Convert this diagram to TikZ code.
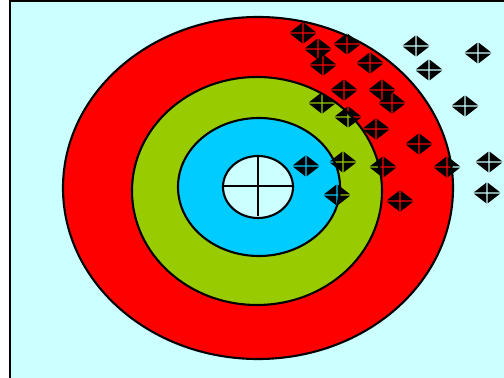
\documentclass[tikz,border=0pt]{standalone}
\usepackage{tikz}
\definecolor{paleCyan}{RGB}{204,255,255}
\definecolor{ringRed}{RGB}{255,0,0}
\definecolor{ringGreen}{RGB}{153,204,0}
\definecolor{ringBlue}{RGB}{0,204,255}

\begin{document}
\begin{tikzpicture}[
    x=0.02cm, y=-0.02cm,
    ring/.style={draw=black, line width=1.2pt},
    crosshair/.style={line width=1.3pt},
    hit/.pic={
        \foreach \sx in {1,-1}
            \foreach \sy in {1,-1}
                \fill[black, xscale=\sx, yscale=\sy] (0.6,0.6) -- (13.2,0.6) -- (0.6,10.4) -- cycle;
    }
]
    \useasboundingbox (0,0) rectangle (504,378);
    % backdrop
    \fill[paleCyan] (10,1) rectangle (504,378);
    \draw[line width=1.1pt] (10,378) -- (10,1) -- (504,1);
    % rings
    \draw[ring, fill=ringRed] (258,188) ellipse [x radius=195, y radius=171];
    \draw[ring, fill=ringGreen] (257,191) ellipse [x radius=125, y radius=114];
    \draw[ring, fill=ringBlue] (259,187) ellipse [x radius=81, y radius=69];
    \draw[ring, fill=paleCyan] (258,187) ellipse [x radius=35, y radius=31];
    \draw[crosshair] (258,155) -- (258,216);
    \draw[crosshair] (223,186) -- (293,186);
    % hits
    \foreach \px/\py in {303/33, 318/49, 323/65, 347/44, 370/63, 416/46, 429/70,
                         478/53, 344/90, 382/90, 322/103, 348/117, 392/103, 465/106,
                         376/129, 419/144, 306/166, 343/162, 383/167, 447/167,
                         489/162, 337/195, 400/201, 487/193}
        \pic at (\px,\py) {hit};
\end{tikzpicture}
\end{document}
